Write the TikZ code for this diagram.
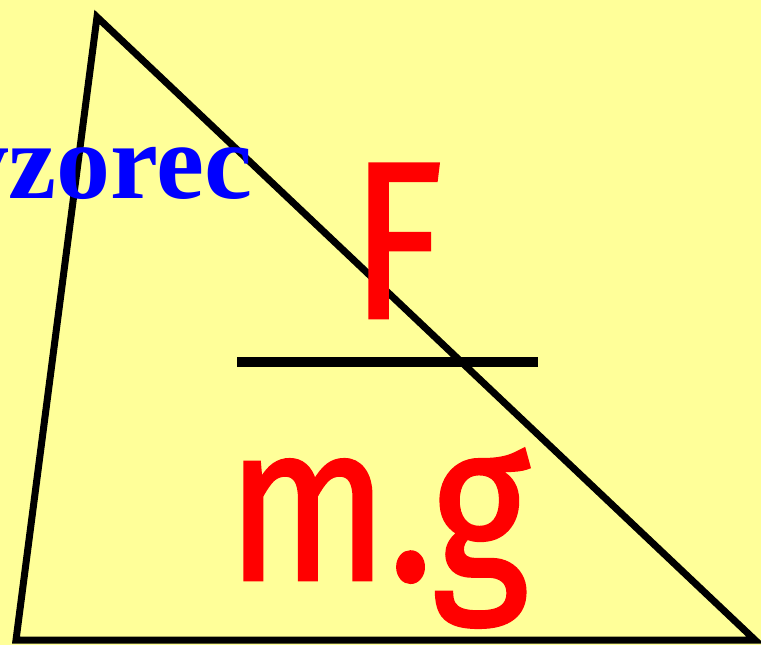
\documentclass[tikz,border=0pt]{standalone}
\usepackage{fontspec}
\usetikzlibrary{positioning}
\setmainfont{Liberation Serif}
\newfontfamily\comicfont[FakeStretch=0.84, FakeBold=1.2]{Fira Sans}
\definecolor{paleyellow}{HTML}{FFFF99}
\tikzset{
    wordlabel/.style={inner sep=0pt, text=blue, font=\fontsize{54}{60}\selectfont\bfseries},
    symbol/.style={inner sep=0pt, text=red, font=\comicfont\fontsize{112}{120}\selectfont},
    edge/.style={line width=3.5pt, line join=miter},
    bar/.style={line width=5pt}
}

\begin{document}
\begin{tikzpicture}[x=0.5pt, y=-0.5pt]
    \fill[paleyellow] (0,0) rectangle (761,645);
    \useasboundingbox (0,0) rectangle (761,645);
    \coordinate (apex) at (97,17);
    \coordinate (left) at (16,640);
    \coordinate (right) at (755,640);
    \draw [edge] (apex) -- (left) -- (right) -- cycle;

    \node (word) [wordlabel, anchor=base east] at (253,198) {vzorec};
    \node (force) [symbol, anchor=base] at (397,318) {F};
    \coordinate (barleft) at (237,362);
    \coordinate (barright) at (538,362);
    \draw [bar] (barleft) -- (barright);
    \node (weight) [symbol, anchor=base] at (378,580) {m.g};
\end{tikzpicture}
\end{document}
